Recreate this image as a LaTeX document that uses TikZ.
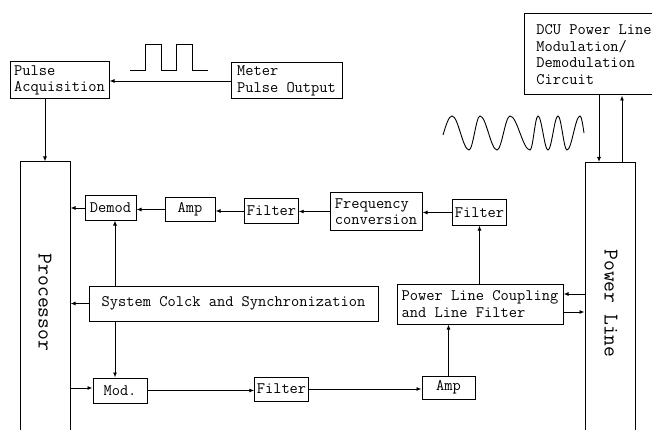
\documentclass[tikz,border=0pt]{standalone}
\usepackage{fontspec}
\usepackage{tikz}
\usetikzlibrary{arrows.meta, positioning, calc}

\begin{document}
\begin{tikzpicture}[
    x=1pt, y=-1pt,
    blk/.style={draw, line width=1pt, inner sep=2pt, align=left,
                font=\ttfamily\fontsize{16}{16.5}\selectfont},
    tall/.style={draw, line width=1pt, minimum width=50, minimum height=278},
    vlabel/.style={rotate=-90, font=\ttfamily\fontsize{21}{22}\selectfont},
    arrow/.style={->, >={Latex[length=5pt,width=4pt]}, line width=0.9pt},
    wave/.style={line width=0.9pt}
]
    \useasboundingbox (0,0) rectangle (652,430);
    \clip (0,0) rectangle (652,430);

    % pulse side
    \node[blk, minimum width=99, minimum height=37] (pulseacq) at (59.5,80.5) {Pulse\\Acquisition};
    \node[blk, minimum width=111, minimum height=36] (meter) at (286.5,81) {Meter\\Pulse Output};
    \draw[wave] (130,70) -- (145,70) -- (145,44) -- (161,44) -- (161,70)
        -- (176,70) -- (176,44) -- (192,44) -- (192,70) -- (208,70);

    % the two tall blocks
    \node[tall] (processor) at (45,301) {};
    \node[vlabel] at (45,302.5) {Processor};
    \node[tall] (powerline) at (610,301.5) {};
    \node[vlabel] at (611,303.5) {Power Line};
    \node[blk, minimum width=140, minimum height=81] (dcu) at (594,54.5)
        {DCU Power Line\\Modulation/\\Demodulation\\Circuit};

    % receive chain
    \node[blk, minimum width=51, minimum height=24] (demod) at (110.5,208) {Demod};
    \node[blk, minimum width=50, minimum height=23] (amprx) at (190,209.5) {Amp};
    \node[blk, minimum width=53, minimum height=24] (filterrx) at (271.5,211) {Filter};
    \node[blk, minimum width=92, minimum height=37] (freq) at (376,211.5) {Frequency\\conversion};
    \node[blk, minimum width=53, minimum height=25] (filterin) at (479.5,212.5) {Filter};

    % clock, coupling, transmit chain
    \node[blk, minimum width=289, minimum height=35] (clock) at (233.5,303.5) {System Colck and Synchronization};
    \node[blk, minimum width=166, minimum height=40] (coupling) at (480,304) {Power Line Coupling\\and Line Filter};
    \node[blk, minimum width=54, minimum height=25] (mod) at (120,390.5) {Mod.};
    \node[blk, minimum width=53, minimum height=24] (filtertx) at (281.5,389) {Filter};
    \node[blk, minimum width=53, minimum height=23] (amptx) at (448.5,387.5) {Amp};
    \coordinate (clk) at (115,0);

    \draw[arrow] (meter.west) -- (meter.west -| pulseacq.east);
    \draw[arrow] (processor.north |- pulseacq.south) -- (processor.north);

    \draw[arrow] (demod.west) -- (demod.west -| processor.east);
    \draw[arrow] (amprx.west) -- (amprx.west -| demod.east);
    \draw[arrow] (filterrx.west) -- (filterrx.west -| amprx.east);
    \draw[arrow] (freq.west) -- (freq.west -| filterrx.east);
    \draw[arrow] (filterin.west) -- (filterin.west -| freq.east);
    \draw[arrow] (filterin.south |- coupling.north) -- (filterin.south);

    \draw[arrow] (clk |- clock.north) -- (clk |- demod.south);
    \draw[arrow] (clk |- clock.south) -- (clk |- mod.north);
    \draw[arrow] (clock.west) -- (clock.west -| processor.east);

    \draw[arrow] (processor.east |- 0,388) -- (mod.west |- 0,388);
    \draw[arrow] (mod.east) -- (mod.east -| filtertx.west);
    \draw[arrow] (filtertx.east) -- (filtertx.east -| amptx.west);
    \draw[arrow] (amptx.north) -- (amptx.north |- coupling.south);

    \draw[arrow] ([yshift=10pt]coupling.east -| powerline.west) -- ([yshift=10pt]coupling.east);
    \draw[arrow] ([yshift=-8pt]coupling.east) -- ([yshift=-8pt]coupling.east -| powerline.west);

    \draw[arrow] ([xshift=-11pt]powerline.north |- dcu.south) -- ([xshift=-11pt]powerline.north);
    \draw[arrow] ([xshift=12pt]powerline.north) -- ([xshift=12pt]powerline.north |- dcu.south);

    % carrier signal
    \draw[wave] (443,135) sin (452,116) cos (460.5,133) sin (469,150) cos (474.5,133)
        sin (480,116) cos (488.5,133) sin (497,150) cos (503.5,133)
        sin (510,116) cos (520,133) sin (530,150) cos (534,133)
        sin (538,116) cos (543,133) sin (548,150) cos (553,133)
        sin (558,116) cos (562.5,133) sin (567,150) cos (573.5,133)
        sin (580,116) cos (584,133);
\end{tikzpicture}
\end{document}
